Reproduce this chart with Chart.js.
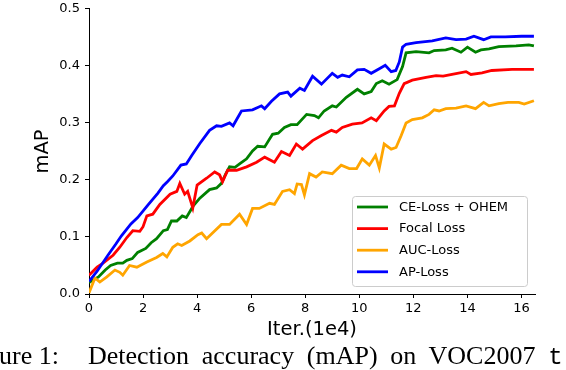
<!DOCTYPE html>
<html>
<head>
<meta charset="utf-8">
<script src="https://cdn.jsdelivr.net/npm/chart.js@4/dist/chart.umd.min.js"></script>
<style>
  html, body { margin:0; padding:0; background:#fff; overflow:hidden; }
  #wrap { position:absolute; left:0; top:0; width:566px; height:370px; }
  .cap { position:absolute; top:343px; font-family:"Liberation Serif","Times New Roman",serif; font-size:26px; line-height:26px; color:#000; white-space:nowrap; }
  .mono { font-family:"Liberation Mono","DejaVu Sans Mono",monospace; font-size:24px; }
</style>
</head>
<body>
<div id="wrap"><canvas id="c" width="566" height="370"></canvas></div>
<span class="cap" style="left:-1px">ure 1:</span>
<span class="cap" style="left:88px; word-spacing:6.2px">Detection accuracy (mAP) on VOC2007 <span class="mono">t</span></span>
<script>
// ---- data (x in units of 1e4 iterations, y = mAP) ----
const seriesLabels = ["CE-Loss + OHEM", "Focal Loss", "AUC-Loss", "AP-Loss"];
const seriesColors = ["#008000", "#ff0000", "#ffa500", "#0000ff"];

const ceX = [0.0,0.35,0.6,0.8,1.05,1.25,1.4,1.6,1.8,2.1,2.3,2.5,2.75,2.9,3.05,3.25,3.45,3.6,3.85,4.1,4.46,4.72,4.9,5.05,5.2,5.4,5.57,5.83,6.05,6.24,6.5,6.79,7.0,7.23,7.47,7.7,8.05,8.34,8.49,8.7,9.0,9.15,9.52,9.93,10.18,10.44,10.63,10.85,11.1,11.4,11.6,11.73,12.1,12.58,12.77,13.2,13.43,13.76,14.0,14.3,14.5,14.8,15.16,15.8,16.27,16.46];
const ceY = [0.02,0.03,0.042,0.05,0.054,0.054,0.059,0.062,0.073,0.08,0.09,0.097,0.111,0.113,0.128,0.128,0.137,0.134,0.154,0.168,0.183,0.186,0.194,0.21,0.223,0.222,0.228,0.237,0.251,0.259,0.258,0.28,0.282,0.292,0.297,0.297,0.315,0.313,0.309,0.321,0.33,0.328,0.345,0.359,0.351,0.355,0.369,0.374,0.368,0.376,0.399,0.423,0.425,0.423,0.427,0.428,0.431,0.424,0.433,0.424,0.428,0.43,0.434,0.435,0.437,0.435];

const focalX = [0.0,0.3,0.52,0.89,1.14,1.4,1.62,1.88,2.0,2.14,2.36,2.62,3.0,3.25,3.36,3.54,3.65,3.84,4.0,4.35,4.65,4.83,4.94,5.13,5.46,5.83,6.2,6.5,6.86,7.12,7.42,7.67,7.9,8.27,8.6,8.97,9.15,9.37,9.74,10.1,10.44,10.63,10.92,11.1,11.3,11.48,11.66,11.96,12.47,12.84,13.1,13.43,13.95,14.13,14.54,14.9,15.65,16.46];
const focalY = [0.033,0.047,0.054,0.068,0.082,0.099,0.111,0.11,0.118,0.137,0.14,0.157,0.175,0.18,0.194,0.175,0.18,0.151,0.191,0.203,0.214,0.209,0.197,0.217,0.217,0.223,0.231,0.24,0.231,0.25,0.243,0.263,0.254,0.269,0.278,0.287,0.284,0.292,0.298,0.3,0.309,0.304,0.321,0.329,0.33,0.352,0.369,0.375,0.38,0.383,0.382,0.385,0.39,0.385,0.388,0.392,0.394,0.394];

const aucX = [0.0,0.22,0.4,0.66,0.96,1.14,1.25,1.5,1.77,2.14,2.5,2.73,2.88,3.1,3.28,3.43,3.73,4.03,4.17,4.35,4.57,4.9,5.2,5.57,5.83,6.05,6.3,6.68,6.86,7.16,7.42,7.6,7.7,7.86,7.97,8.16,8.4,8.63,9.0,9.33,9.63,9.9,10.11,10.37,10.6,10.74,10.92,11.18,11.36,11.55,11.73,11.96,12.33,12.58,12.77,12.95,13.2,13.58,13.95,14.3,14.6,14.8,15.16,15.5,15.9,16.1,16.46];
const aucY = [0.002,0.028,0.021,0.03,0.042,0.038,0.033,0.05,0.047,0.056,0.064,0.071,0.065,0.082,0.088,0.085,0.093,0.104,0.107,0.097,0.107,0.122,0.122,0.14,0.122,0.15,0.15,0.159,0.157,0.18,0.183,0.176,0.193,0.192,0.174,0.211,0.205,0.214,0.211,0.226,0.22,0.22,0.237,0.226,0.243,0.221,0.263,0.254,0.257,0.278,0.3,0.306,0.309,0.315,0.323,0.321,0.325,0.326,0.33,0.325,0.336,0.33,0.334,0.336,0.336,0.333,0.339];

const apX = [0.0,0.3,0.7,1.0,1.2,1.55,1.8,2.2,2.55,2.75,2.9,3.1,3.4,3.6,3.8,4.1,4.46,4.72,4.9,5.2,5.33,5.64,6.05,6.38,6.5,6.75,7.05,7.35,7.47,7.8,7.97,8.27,8.6,9.0,9.2,9.37,9.63,9.93,10.18,10.44,10.74,10.96,11.18,11.35,11.48,11.6,11.73,12.1,12.7,13.2,13.58,13.95,14.24,14.6,14.87,15.4,16.0,16.46];
const apY = [0.022,0.04,0.068,0.088,0.102,0.123,0.134,0.157,0.177,0.19,0.197,0.207,0.226,0.228,0.243,0.264,0.287,0.295,0.294,0.3,0.295,0.321,0.323,0.33,0.325,0.338,0.351,0.354,0.347,0.361,0.357,0.382,0.368,0.387,0.38,0.384,0.381,0.393,0.394,0.387,0.395,0.401,0.39,0.392,0.407,0.433,0.438,0.441,0.444,0.449,0.446,0.447,0.452,0.446,0.451,0.451,0.452,0.452];

const xTickValues = [0,2,4,6,8,10,12,14,16];
const yTickValues = [0.0,0.1,0.2,0.3,0.4,0.5];

function pts(xs, ys){ return xs.map((x,i)=>({x:x, y:ys[i]})); }
const seriesPoints = [pts(ceX,ceY), pts(focalX,focalY), pts(aucX,aucY), pts(apX,apY)];

const datasets = seriesLabels.map((lab,i)=>({
  label: lab,
  data: seriesPoints[i],
  borderColor: seriesColors[i],
  backgroundColor: seriesColors[i],
  borderWidth: 2.8,
  pointRadius: 0,
  tension: 0,
  fill: false,
  order: 3 - i
}));

const FONT = "'DejaVu Sans', sans-serif";

const legendPlugin = {
  id: 'boxLegend',
  afterDatasetsDraw(chart) {
    const ctx = chart.ctx;
    const bx = 352.5, by = 196.5, bw = 175, bh = 90, r = 3;
    ctx.save();
    ctx.beginPath();
    ctx.moveTo(bx + r, by);
    ctx.arcTo(bx + bw, by, bx + bw, by + bh, r);
    ctx.arcTo(bx + bw, by + bh, bx, by + bh, r);
    ctx.arcTo(bx, by + bh, bx, by, r);
    ctx.arcTo(bx, by, bx + bw, by, r);
    ctx.closePath();
    ctx.fillStyle = 'rgba(255,255,255,0.8)';
    ctx.fill();
    ctx.strokeStyle = '#cccccc';
    ctx.lineWidth = 1;
    ctx.stroke();
    ctx.font = "13px " + FONT;
    ctx.textBaseline = 'middle';
    ctx.textAlign = 'left';
    chart.data.datasets.forEach((ds, i) => {
      const y = 207 + i * 21.6;
      ctx.beginPath();
      ctx.moveTo(357, y);
      ctx.lineTo(388, y);
      ctx.strokeStyle = ds.borderColor;
      ctx.lineWidth = 2.8;
      ctx.stroke();
      ctx.fillStyle = '#000';
      ctx.fillText(ds.label, 399, y + 0.5);
    });
    ctx.restore();
  }
};

new Chart(document.getElementById('c'), {
  type: 'line',
  data: { datasets: datasets },
  options: {
    responsive: false,
    animation: false,
    events: [],
    layout: { padding: { left: 0, top: 4, right: 31, bottom: 28 } },
    plugins: { legend: { display: false }, tooltip: { enabled: false }, title: { display: false } },
    scales: {
      x: {
        type: 'linear',
        min: 0, max: 16.5,
        afterFit(s){ s.height = 48; },
        afterBuildTicks(s){ s.ticks = xTickValues.map(v=>({value:v})); },
        ticks: { includeBounds: false, color: '#000', padding: 3, maxRotation: 0,
                 font: { family: FONT, size: 13 }, callback: v => String(v) },
        grid: { drawOnChartArea: false, drawTicks: true, tickLength: 4, color: '#000', lineWidth: 1 },
        border: { display: true, color: '#000', width: 1 },
        title: { display: true, text: 'Iter.(1e4)', color: '#000', padding: { top: 0, bottom: 0 },
                 font: { family: FONT, size: 19.5 } }
      },
      y: {
        type: 'linear',
        min: 0, max: 0.5,
        afterFit(s){ s.width = 89; },
        afterBuildTicks(s){ s.ticks = yTickValues.map(v=>({value:v})); },
        ticks: { includeBounds: false, color: '#000', padding: 5,
                 font: { family: FONT, size: 13, lineHeight: 0.6 }, callback: v => Number(v).toFixed(1) },
        grid: { drawOnChartArea: false, drawTicks: true, tickLength: 4, color: '#000', lineWidth: 1 },
        border: { display: true, color: '#000', width: 1 },
        title: { display: true, text: 'mAP', color: '#000', padding: { top: 31, bottom: 0 },
                 font: { family: FONT, size: 19.5 } }
      }
    }
  },
  plugins: [legendPlugin]
});
</script>
</body>
</html>
